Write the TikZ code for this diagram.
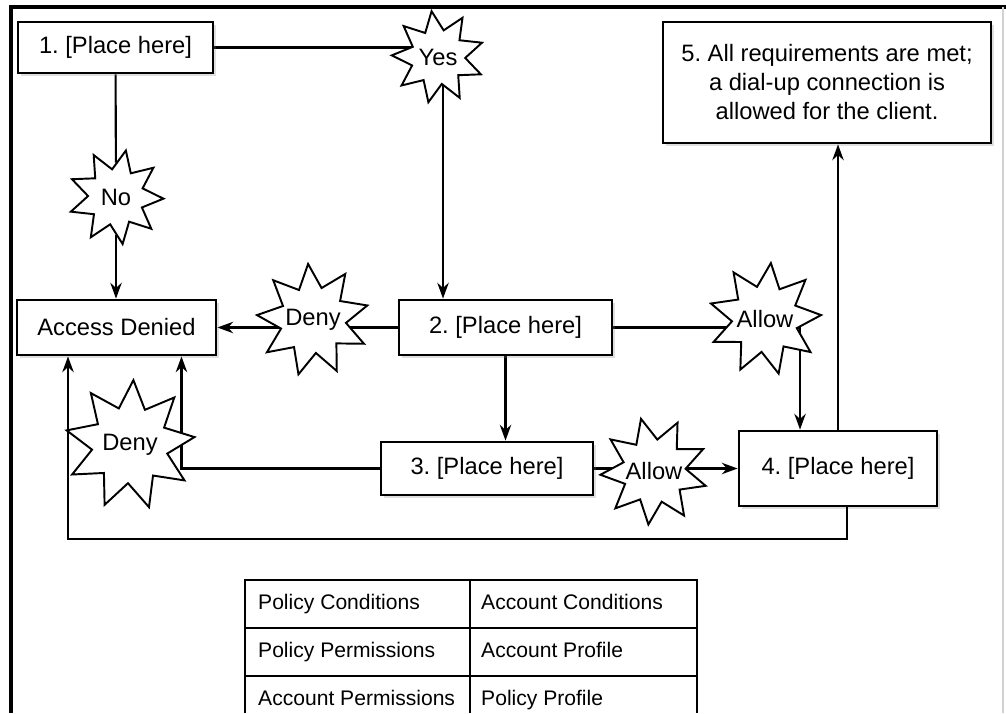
\documentclass[tikz,border=0pt]{standalone}
\usepackage{fontspec}
\setmainfont{Liberation Sans}
\frenchspacing
\usetikzlibrary{arrows.meta,shapes.geometric,shadows,backgrounds}
\tikzset{
flow/.style={>={Stealth[length=9pt,width=6.5pt]},x=0.02cm,y=-0.02cm,
font=\fontsize{13.5}{16.5}\selectfont},
link/.style={line width=1.2pt},
stage/.style={rectangle,draw,line width=1.6pt,fill=white,align=center,
drop shadow={shadow xshift=1.5pt,shadow yshift=-1.5pt,opacity=0.25}},
burst/.style={star,draw,fill=white,line width=1.1pt,star points=9,
star point ratio=1.7,inner sep=0pt,minimum size=#1},
burst/.default={1.85cm},
cell/.style={anchor=west,text height=9pt,text depth=3pt,font=\fontsize{12}{14}\selectfont},
}
\begin{document}
\begin{tikzpicture}[flow]
\useasboundingbox (0,0) rectangle (1006,713);
% frame
\draw[line width=1.8pt] (11,713) -- (11,7) -- (1006,7);
\draw[gray!35,line width=0.8pt] (1003,7) -- (1003,713);

\node[stage,minimum width=3.9cm,minimum height=1.02cm] (n1) at (115.5,47.5) {1. [Place here]};
\node[stage,minimum width=3.98cm,minimum height=1.1cm] (denied) at (116.5,327.5) {Access Denied};
\node[stage,minimum width=4.26cm,minimum height=1.1cm] (n2) at (505.5,327.5) {2. [Place here]};
\node[stage,minimum width=4.24cm,minimum height=1.06cm] (n3) at (487,468.5) {3. [Place here]};
\node[stage,minimum width=3.96cm,minimum height=1.5cm] (n4) at (838,468.5) {4. [Place here]};
\node[stage,minimum width=6.56cm,minimum height=2.42cm] (n5) at (827,82.5)
  {5. All requirements are met;\\a dial-up connection is\\allowed for the client.};

\node[burst,shape border rotate=8,label=center:Yes] (yes) at (438,57) {};
\node[burst=1.9cm,shape border rotate=-12,label=center:No] (no) at (116,197) {};
\node[burst=2.25cm,shape border rotate=5,label=center:Deny] (deny1) at (313,320) {};
\node[burst=2.25cm,shape border rotate=-6,label=center:Allow] (allow1) at (765,319) {};
\node[burst=2.15cm,shape border rotate=14,label=center:Allow] (allow2) at (654,471) {};
\node[burst=2.6cm,shape border rotate=-3,label=center:Deny] (deny2) at (130,445) {};

\begin{pgfonlayer}{background}
\draw[link] (n1.east) -- (n1.east -| yes.center);
\draw[link,->] ([xshift=0.1cm]yes.center) -- ([xshift=0.1cm]yes.center |- n2.north);
\draw[link] (n1) -- (no);
\draw[link,->] (no) -- (no |- denied.north);
\draw[link,->] (n2.west) -- (denied.east);
\draw[link,->] (n2.east) -| ([xshift=-0.76cm]n4.north);
\draw[link,->] (n2.south) -- (n2.south |- n3.north);
\draw[link,->] (n3.east) -- (n4.west);
\draw[link,->] (n3.west) -| ([xshift=1.3cm]denied.south);
\end{pgfonlayer}
\draw[link,->] (n4.north) -- (n4.north |- n5.south);
\draw[link,->] ([xshift=0.18cm]n4.south) -- ++(0,32) -| ([xshift=-0.97cm]denied.south);

% table
\draw[line width=1.4pt] (245,713) -- (245,580) -- (697,580) -- (697,713)
  (470,580) -- (470,713) (245,628) -- (697,628) (245,676) -- (697,676);
\node[cell] (pc) at (252,604) {Policy Conditions};
\node[cell] (ac) at (475,604) {Account Conditions};
\node[cell] (pp) at (252,652) {Policy Permissions};
\node[cell] (ap) at (475,652) {Account Profile};
\node[cell] (apm) at (252,700) {Account Permissions};
\node[cell] (pf) at (475,700) {Policy Profile};
\end{tikzpicture}
\end{document}
